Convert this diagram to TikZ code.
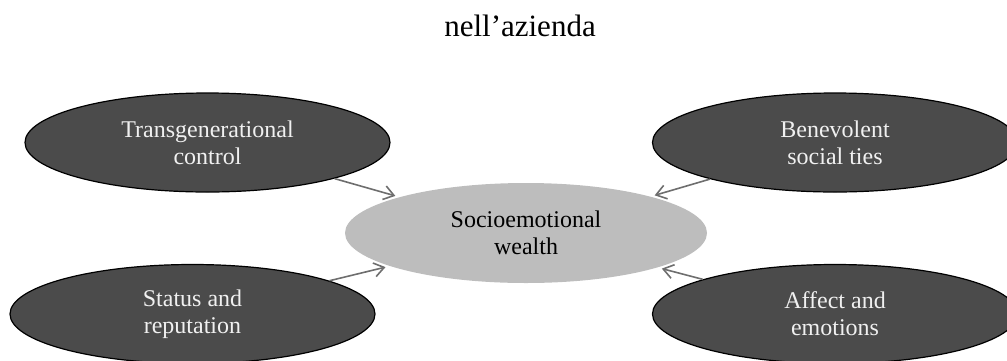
\documentclass[tikz,border=0pt]{standalone}
\usepackage{fontspec}
\setmainfont{Liberation Serif}
\usetikzlibrary{shapes.geometric,arrows.meta}
\definecolor{darkfill}{HTML}{4B4B4B}
\definecolor{corefill}{HTML}{BDBDBD}
\definecolor{linkgray}{HTML}{6E6E6E}

\begin{document}
\begin{tikzpicture}[
        x=0.5pt, y=-0.5pt,
        factor/.style={ellipse, draw=black, line width=0.6pt, fill=darkfill, text=white!94!black, minimum width=182.5pt, minimum height=49.5pt, inner sep=1pt, align=center, font=\fontsize{12}{13.5}\selectfont},
        core/.style={ellipse, fill=corefill, minimum width=181pt, minimum height=50pt, inner sep=1pt, align=center, font=\fontsize{12}{13.5}\selectfont},
        link/.style={draw=linkgray, line width=0.8pt, -{Straight Barb[length=5pt,width=7pt]}, shorten >=2pt}
    ]
        \useasboundingbox (0,0) rectangle (1007,360);

        % Title
        \node[anchor=base, font=\fontsize{15.5}{18}\selectfont] (title) at (520,36) {nell’azienda};

        % Core
        \node[core] (wealth) at (526,233) {Socioemotional\\wealth};

        % Dimensions
        \node[factor] (control) at (207.5,142.5) {Transgenerational\\control};
        \node[factor] (ties) at (835,142.5) {Benevolent\\social ties};
        \node[factor] (status) at (192.5,314) {Status and\\reputation};
        \node[factor] (affect) at (835,314) {Affect and\\emotions};

        % Connections
        \draw[link] (control) -- (wealth);
        \draw[link] (ties) -- (wealth);
        \draw[link] (status) -- (wealth);
        \draw[link] (affect) -- (wealth);
    \end{tikzpicture}
\end{document}
